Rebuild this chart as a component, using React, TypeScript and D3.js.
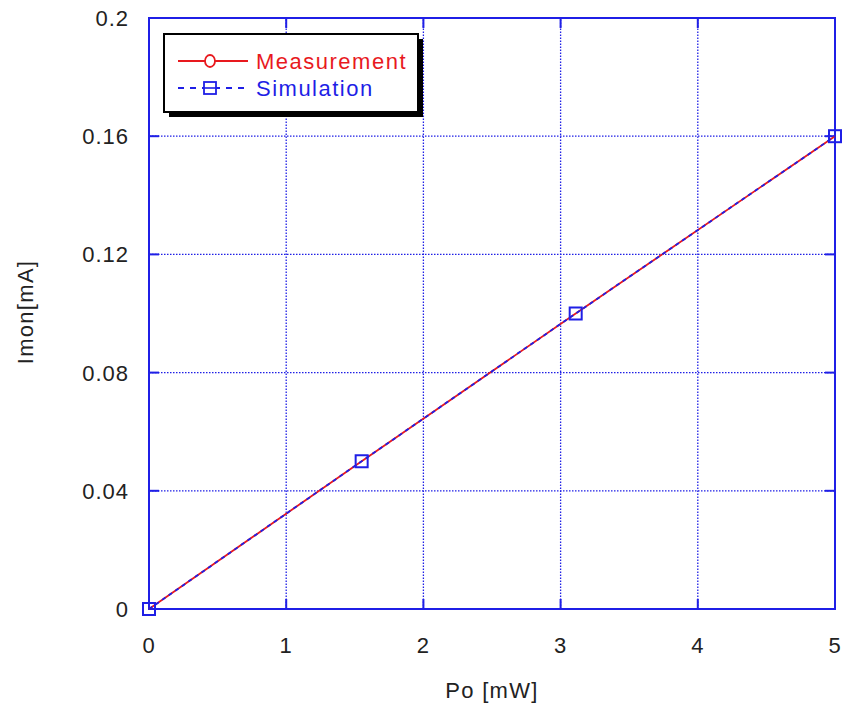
import React from "react";
import * as d3 from "d3";

const xTicks = [0, 1, 2, 3, 4, 5];
const yTicks = [0, 0.04, 0.08, 0.12, 0.16, 0.2];
const yTickLabels = ["0", "0.04", "0.08", "0.12", "0.16", "0.2"];
const measX = [0, 1.55, 3.11, 5];
const measY = [0, 0.05, 0.1, 0.16];
const simX = [0, 1.55, 3.11, 5];
const simY = [0, 0.05, 0.1, 0.16];
const seriesNames = ["Measurement", "Simulation"];

const W = 843;
const H = 713;
const BLUE = "#1f1fe6";
const RED = "#e8191e";
const TXT = "#222";
const FONT = "Arial, 'Liberation Sans', sans-serif";

export default function App() {
  const x = d3.scaleLinear().domain([0, 5]).range([149, 835]);
  const y = d3.scaleLinear().domain([0, 0.2]).range([609, 18]);
  const measPts: [number, number][] = measX.map((v, i) => [x(v), y(measY[i])]);
  const simPts: [number, number][] = simX.map((v, i) => [x(v), y(simY[i])]);
  const lg = d3.line();
  const [x0, x1] = x.range();
  const [y0, y1] = y.range();
  const tickLen = 10;
  return (
    <svg
      width={W}
      height={H}
      style={{ position: "absolute", left: 0, top: 0, background: "#fff" }}
      fontFamily={FONT}
    >
      {/* grid */}
      {xTicks.slice(1, -1).map((t) => (
        <line key={"gx" + t} x1={x(t)} x2={x(t)} y1={y0} y2={y1} stroke={BLUE} strokeWidth={1.3} strokeDasharray="1.5,1.5" />
      ))}
      {yTicks.slice(1, -1).map((t) => (
        <line key={"gy" + t} x1={x0} x2={x1} y1={y(t)} y2={y(t)} stroke={BLUE} strokeWidth={1.3} strokeDasharray="1.5,1.5" />
      ))}
      {/* ticks inward */}
      {xTicks.map((t) => (
        <g key={"tx" + t}>
          <line x1={x(t)} x2={x(t)} y1={y0} y2={y0 - tickLen} stroke={BLUE} strokeWidth={2} />
          <line x1={x(t)} x2={x(t)} y1={y1} y2={y1 + tickLen} stroke={BLUE} strokeWidth={2} />
          <text x={x(t)} y={653} textAnchor="middle" fontSize={22} fill={TXT} letterSpacing={1}>
            {t}
          </text>
        </g>
      ))}
      {yTicks.map((t, i) => (
        <g key={"ty" + t}>
          <line x1={x0} x2={x0 + tickLen} y1={y(t)} y2={y(t)} stroke={BLUE} strokeWidth={2} />
          <line x1={x1} x2={x1 - tickLen} y1={y(t)} y2={y(t)} stroke={BLUE} strokeWidth={2} />
          <text x={129} y={y(t) + 8} textAnchor="end" fontSize={22} fill={TXT} letterSpacing={1}>
            {yTickLabels[i]}
          </text>
        </g>
      ))}
      {/* frame */}
      <rect x={x0} y={y1} width={x1 - x0} height={y0 - y1} fill="none" stroke={BLUE} strokeWidth={2} />
      {/* series */}
      <path d={lg(measPts) || ""} fill="none" stroke={RED} strokeWidth={1.8} />
      <path d={lg(simPts) || ""} fill="none" stroke={BLUE} strokeWidth={1.8} strokeDasharray="4,4" />
      {simPts.map(([px, py], i) => (
        <rect key={"s" + i} x={px - 6} y={py - 6} width={12} height={12} fill="none" stroke={BLUE} strokeWidth={2} />
      ))}
      {/* axis titles */}
      <text x={492} y={698} textAnchor="middle" fontSize={22} fill={TXT} letterSpacing={1.3}>
        Po [mW]
      </text>
      <text transform="translate(33,312) rotate(-90)" textAnchor="middle" fontSize={22} fill={TXT} letterSpacing={1.3}>
        Imon[mA]
      </text>
      {/* legend */}
      <rect x={169} y={39} width={254} height={78} fill="#000" />
      <rect x={164} y={34} width={254} height={78} fill="#fff" stroke="#000" strokeWidth={2} />
      <line x1={178} x2={248} y1={61} y2={61} stroke={RED} strokeWidth={1.8} />
      <ellipse cx={210} cy={61} rx={5} ry={6} fill="#fff" stroke={RED} strokeWidth={1.8} />
      <text x={256} y={69} fontSize={22} fill={RED} letterSpacing={1.5}>
        {seriesNames[0]}
      </text>
      <line x1={178} x2={248} y1={88} y2={88} stroke={BLUE} strokeWidth={1.8} strokeDasharray="6,6" />
      <rect x={204} y={82} width={12} height={12} fill="#fff" stroke={BLUE} strokeWidth={1.8} />
      <line x1={204} x2={216} y1={88} y2={88} stroke={BLUE} strokeWidth={1.6} />
      <text x={256} y={96} fontSize={22} fill={BLUE} letterSpacing={1.5}>
        {seriesNames[1]}
      </text>
    </svg>
  );
}
